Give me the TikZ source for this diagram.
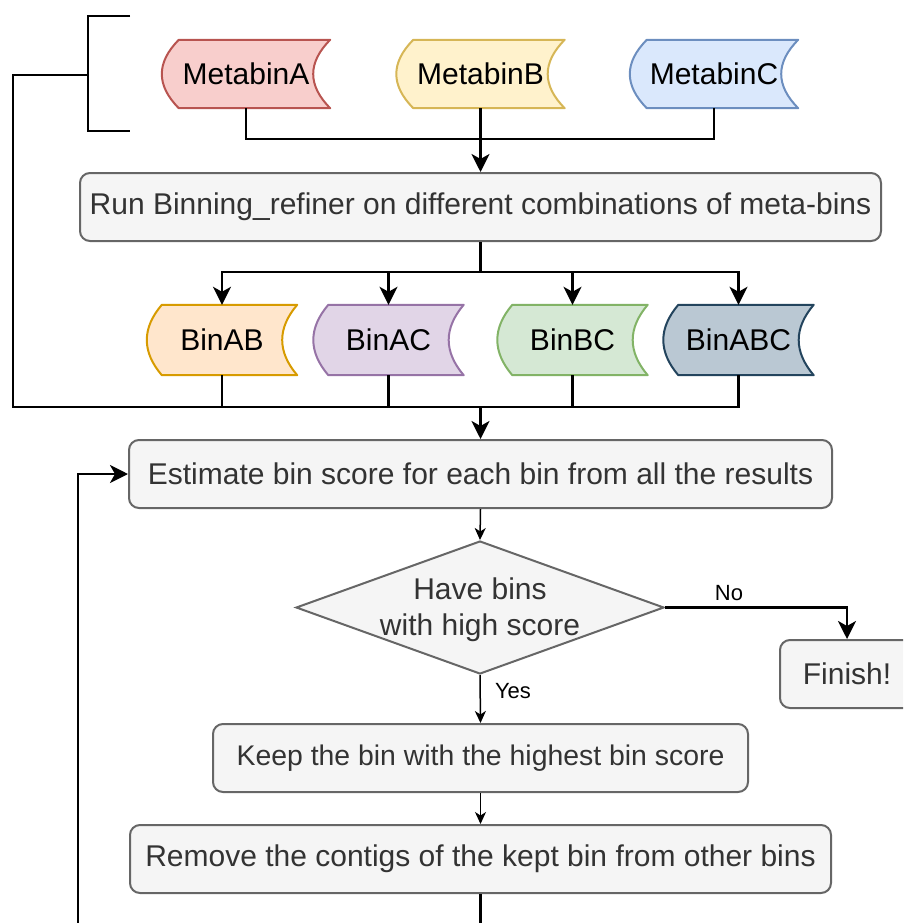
\documentclass[tikz,border=0pt]{standalone}
\usepackage{fontspec}
\setmainfont{Liberation Sans}
\usetikzlibrary{calc,arrows.meta,shapes.geometric}
\pgfdeclarelayer{background}
\pgfsetlayers{background,main}
\definecolor{aFill}{HTML}{F8CECC}\definecolor{aLine}{HTML}{B85450}
\definecolor{bFill}{HTML}{FFF2CC}\definecolor{bLine}{HTML}{D6B656}
\definecolor{cFill}{HTML}{DAE8FC}\definecolor{cLine}{HTML}{6C8EBF}
\definecolor{abFill}{HTML}{FFE6CC}\definecolor{abLine}{HTML}{D79B00}
\definecolor{acFill}{HTML}{E1D5E7}\definecolor{acLine}{HTML}{9673A6}
\definecolor{bcFill}{HTML}{D5E8D4}\definecolor{bcLine}{HTML}{82B366}
\definecolor{abcFill}{HTML}{BAC8D3}\definecolor{abcLine}{HTML}{23445D}
\definecolor{boxFill}{HTML}{F5F5F5}\definecolor{boxLine}{HTML}{666666}
\definecolor{boxText}{HTML}{333333}
% stored-data shape behind a named node: node, fill, line, s
\newcommand{\datashape}[4]{%
\begin{pgfonlayer}{background}
\draw[line width=2pt, fill=#2, draw=#3, line join=round]
 ($(#1.north west)+(#4,0)$) -- (#1.north east)
 .. controls ($(#1.north east)!1/3!(#1.south east)+({-4*#4/3},0)$) and ($(#1.north east)!2/3!(#1.south east)+({-4*#4/3},0)$) .. (#1.south east)
 -- ($(#1.south west)+(#4,0)$)
 .. controls ($(#1.north west)!2/3!(#1.south west)+({-#4/3},0)$) and ($(#1.north west)!1/3!(#1.south west)+({-#4/3},0)$) .. cycle;
\end{pgfonlayer}}
\tikzset{
 bigtip/.tip={Stealth[length=18pt,width=18pt,inset=5pt]},
 smalltip/.tip={Stealth[length=12pt,width=11pt,inset=3.5pt]},
}
\begin{document}
\begin{tikzpicture}[x=1pt,y=-1pt,
  every node/.style={font=\fontsize{30}{35.5}\selectfont},
  datanode/.style={minimum width=168pt, minimum height=68pt, inner sep=0pt, text=black},
  binnode/.style={minimum width=150pt, minimum height=70pt, inner sep=0pt, text=black},
  procbox/.style={draw=boxLine, fill=boxFill, text=boxText, rounded corners=10pt, line width=2pt, minimum height=68pt, inner sep=0pt},
  tk/.style={line width=2.5pt, draw=black},
  tn/.style={line width=1.5pt, draw=black},
  lbl/.style={font=\fontsize{22}{26}\selectfont, text=black, inner sep=0pt}]
\useasboundingbox (0,0) rectangle (903,923);
\clip (0,0) rectangle (903,923);

% meta-bins
\node[datanode] (mA) at (246,74) {MetabinA};
\node[datanode] (mB) at (480.5,74) {MetabinB};
\node[datanode] (mC) at (714,74) {MetabinC};
\datashape{mA}{aFill}{aLine}{17}
\datashape{mB}{bFill}{bLine}{17}
\datashape{mC}{cFill}{cLine}{17}

% process boxes
\node[procbox, minimum width=801pt] (run) at (480.5,207) {Run Binning\_refiner on different combinations of meta-bins};

% bins
\node[binnode] (bAB) at (222,340) {BinAB};
\node[binnode] (bAC) at (388.5,340) {BinAC};
\node[binnode] (bBC) at (572.5,340) {BinBC};
\node[binnode] (bABC) at (738.5,340) {BinABC};
\datashape{bAB}{abFill}{abLine}{15}
\datashape{bAC}{acFill}{acLine}{15}
\datashape{bBC}{bcFill}{bcLine}{15}
\datashape{bABC}{abcFill}{abcLine}{15}

\node[procbox, minimum width=703pt] (est) at (480.5,474) {Estimate bin score for each bin from all the results};
\node[shape=diamond, draw=boxLine, fill=boxFill, line width=2pt, minimum width=368pt, minimum height=133pt, inner sep=0pt,
  label={[align=center, text=boxText, font=\fontsize{30}{35.5}\selectfont, yshift=-2pt]center:Have bins\\with high score}] (dia) at (480,607.5) {};
\node[procbox, minimum width=134pt] (fin) at (847,674) {Finish!};
\node[procbox, minimum width=535pt, font=\fontsize{28.4}{34}\selectfont] (keep) at (480.5,758) {Keep the bin with the highest bin score};
\node[procbox, minimum width=701pt] (rem) at (480.5,859) {Remove the contigs of the kept bin from other bins};

% bracket
\coordinate (brT) at (130,16);
\coordinate (brB) at (130,131);
\coordinate (brM) at (88,75);
\draw[tk] (brT) -| (brM) |- (brB);

% joins
\coordinate (rj) at (480.5,272);
\coordinate (bj) at (480.5,407);

% meta-bins -> run
\draw[tk] (mA.south) -- ++(0,31) -| (mC.south);
\draw[tk,-{bigtip}] (mB.south) -- (run.north);

% run -> bins
\foreach \b in {bAB,bAC,bBC,bABC}
  \draw[tk,-{bigtip}] (run.south) -- (rj) -| (\b.north);

% bins -> est
\foreach \b in {bAB,bAC,bBC,bABC}
  \draw[tk] (\b.south) |- (bj);
\draw[tk] (brM) -- ++(-75,0) |- (bj);
\draw[tk,-{bigtip}] (bj) -- (est.north);

% decision
\draw[tn,-{smalltip}] (est.south) -- (dia.north);
\draw[tk,-{bigtip}] (dia.east) -| (fin.north);
\node[lbl] (no) at (729,593) {No};
\draw[tn,-{smalltip}] (dia.south) -- (keep.north);
\node[lbl] (yes) at (513,691) {Yes};
\draw[tn,-{smalltip}] (keep.south) -- (rem.north);

% loop back
\draw[tk,-{bigtip}] (rem.south) -- ++(0,60) -| ($(est.west)+(-50,0)$) -- (est.west);
\end{tikzpicture}
\end{document}
